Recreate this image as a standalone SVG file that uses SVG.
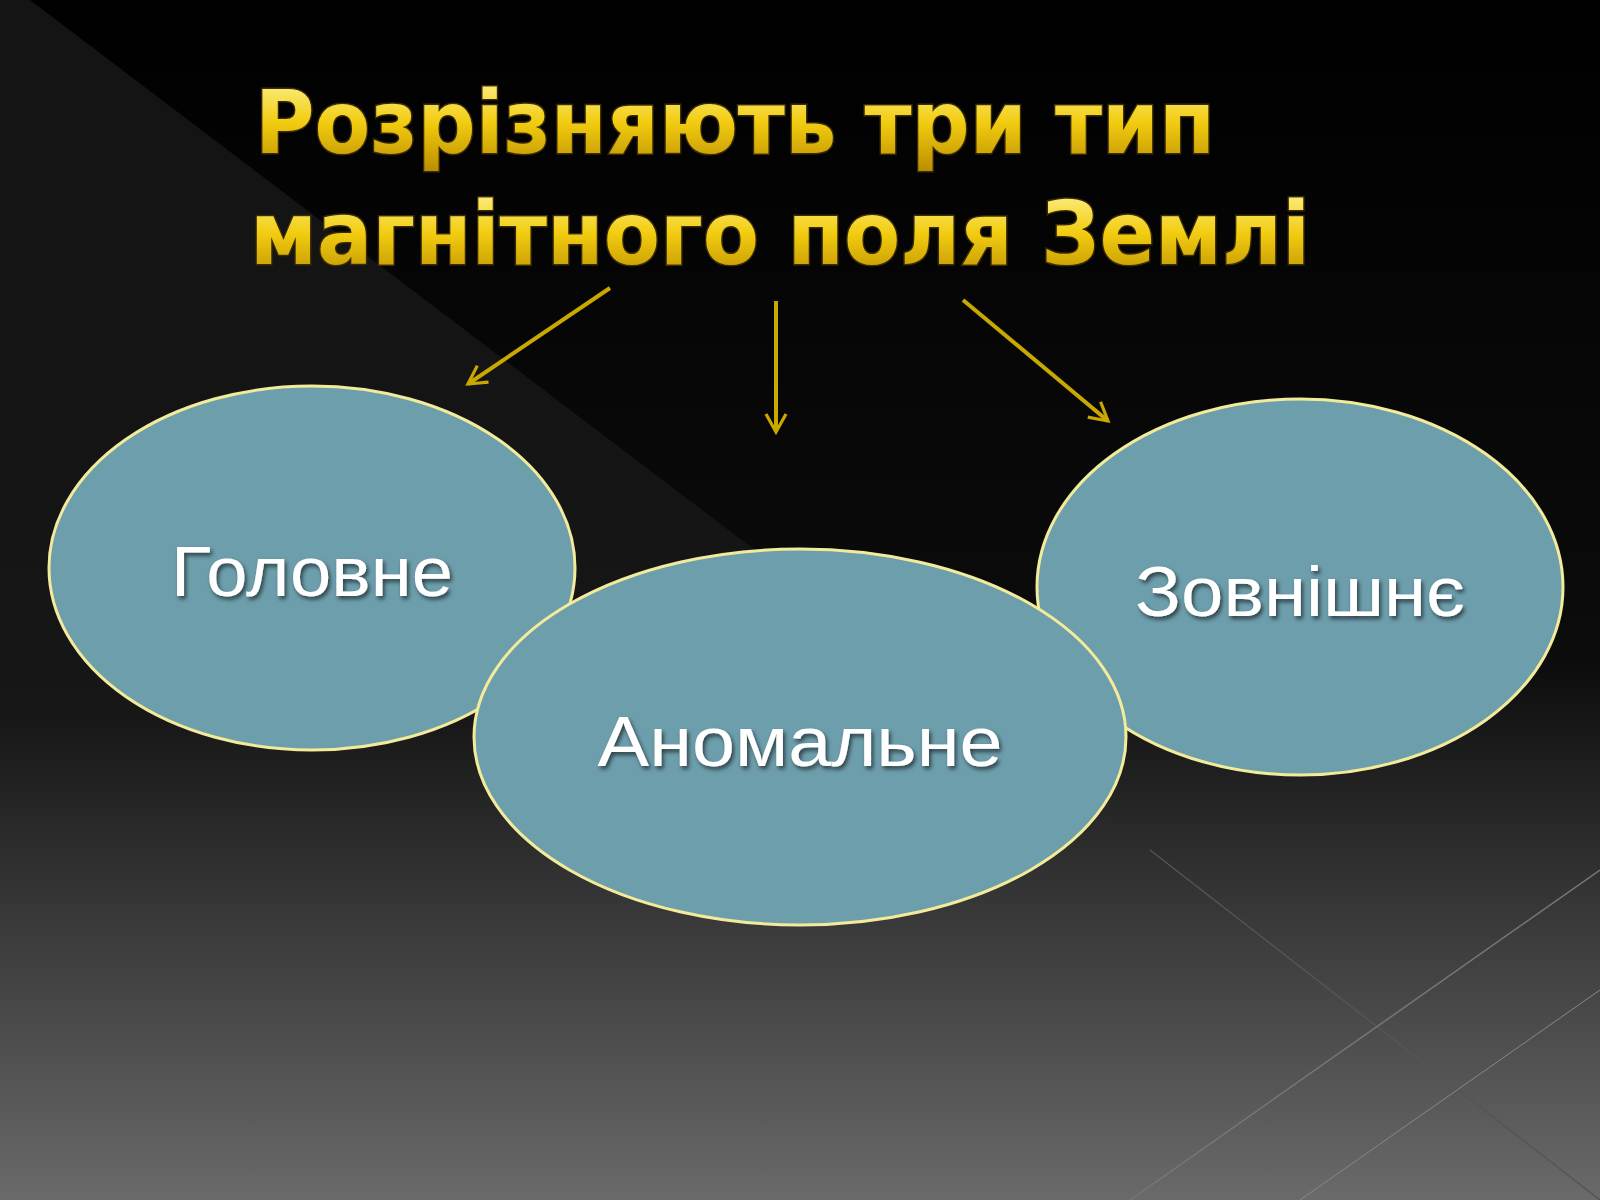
<svg xmlns="http://www.w3.org/2000/svg" width="1600" height="1200" viewBox="0 0 1600 1200">
<defs>
<linearGradient id="bg" x1="0" y1="0" x2="0" y2="1">
<stop offset="0" stop-color="#000"/><stop offset="0.55" stop-color="#0c0c0c"/><stop offset="1" stop-color="#6a6a6a"/>
</linearGradient>
<linearGradient id="tri" x1="0" y1="0" x2="0" y2="1">
<stop offset="0" stop-color="#141414" stop-opacity="1"/><stop offset="0.6" stop-color="#181818" stop-opacity="0.8"/><stop offset="1" stop-color="#666" stop-opacity="0"/>
</linearGradient>
<linearGradient id="gold" x1="0" y1="0" x2="0" y2="1">
<stop offset="0" stop-color="#fff6a0"/><stop offset="0.5" stop-color="#f2cc10"/><stop offset="1" stop-color="#b88a00"/>
</linearGradient>
<marker id="ah" viewBox="0 0 12 12" refX="10" refY="6" markerWidth="6" markerHeight="6" orient="auto" markerUnits="strokeWidth">
<path d="M1,1 L10,6 L1,11" fill="none" stroke="#c9a800" stroke-width="1.6"/>
</marker>
<filter id="sh" x="-10%" y="-10%" width="120%" height="130%"><feDropShadow dx="2" dy="3" stdDeviation="2" flood-color="#000" flood-opacity="0.6"/></filter>
</defs>
<style>
.ell{fill:#6d9eac;stroke:#f3eb9a;stroke-width:3}
.lbl{font-family:"Liberation Sans",sans-serif;font-size:70px;fill:#fff;text-anchor:middle;filter:url(#sh)}
.ttl{font-family:"DejaVu Sans",sans-serif;font-weight:bold;font-size:88px;fill:url(#gold);stroke:#3a2c00;stroke-width:3;paint-order:stroke}
.arr{stroke:#c9a800;stroke-width:4;fill:none;marker-end:url(#ah)}
</style>
<rect width="1600" height="1200" fill="url(#bg)"/>
<path d="M30,0 L1150,850 L1600,1200 L0,1200 L0,0 Z" fill="url(#tri)"/>
<path d="M1150,850 L1600,1200" stroke="#555" stroke-width="1.5"/>
<path d="M1600,870 L1130,1200" stroke="#777" stroke-width="1.5"/>
<path d="M1600,990 L1300,1200" stroke="#888" stroke-width="1"/>
<g id="title">
<text class="ttl" x="255" y="153" textLength="960" lengthAdjust="spacingAndGlyphs">Розрізняють три тип</text>
<text class="ttl" x="250" y="264" textLength="1060" lengthAdjust="spacingAndGlyphs">магнітного поля Землі</text>
</g>
<g id="connectors">
<line class="arr" x1="610" y1="288" x2="468" y2="384"/>
<line class="arr" x1="776" y1="301" x2="776" y2="432"/>
<line class="arr" x1="963" y1="300" x2="1108" y2="421"/>
</g>
<g id="n1"><ellipse class="ell" cx="312" cy="568" rx="263" ry="182"/><text class="lbl" x="312" y="596" textLength="282" lengthAdjust="spacingAndGlyphs">Головне</text></g>
<g id="n3"><ellipse class="ell" cx="1300" cy="587" rx="263" ry="188"/><text class="lbl" x="1300" y="616" textLength="330" lengthAdjust="spacingAndGlyphs">Зовнішнє</text></g>
<g id="n2"><ellipse class="ell" cx="800" cy="737" rx="326" ry="188"/><text class="lbl" x="800" y="766" textLength="405" lengthAdjust="spacingAndGlyphs">Аномальне</text></g>
</svg>
